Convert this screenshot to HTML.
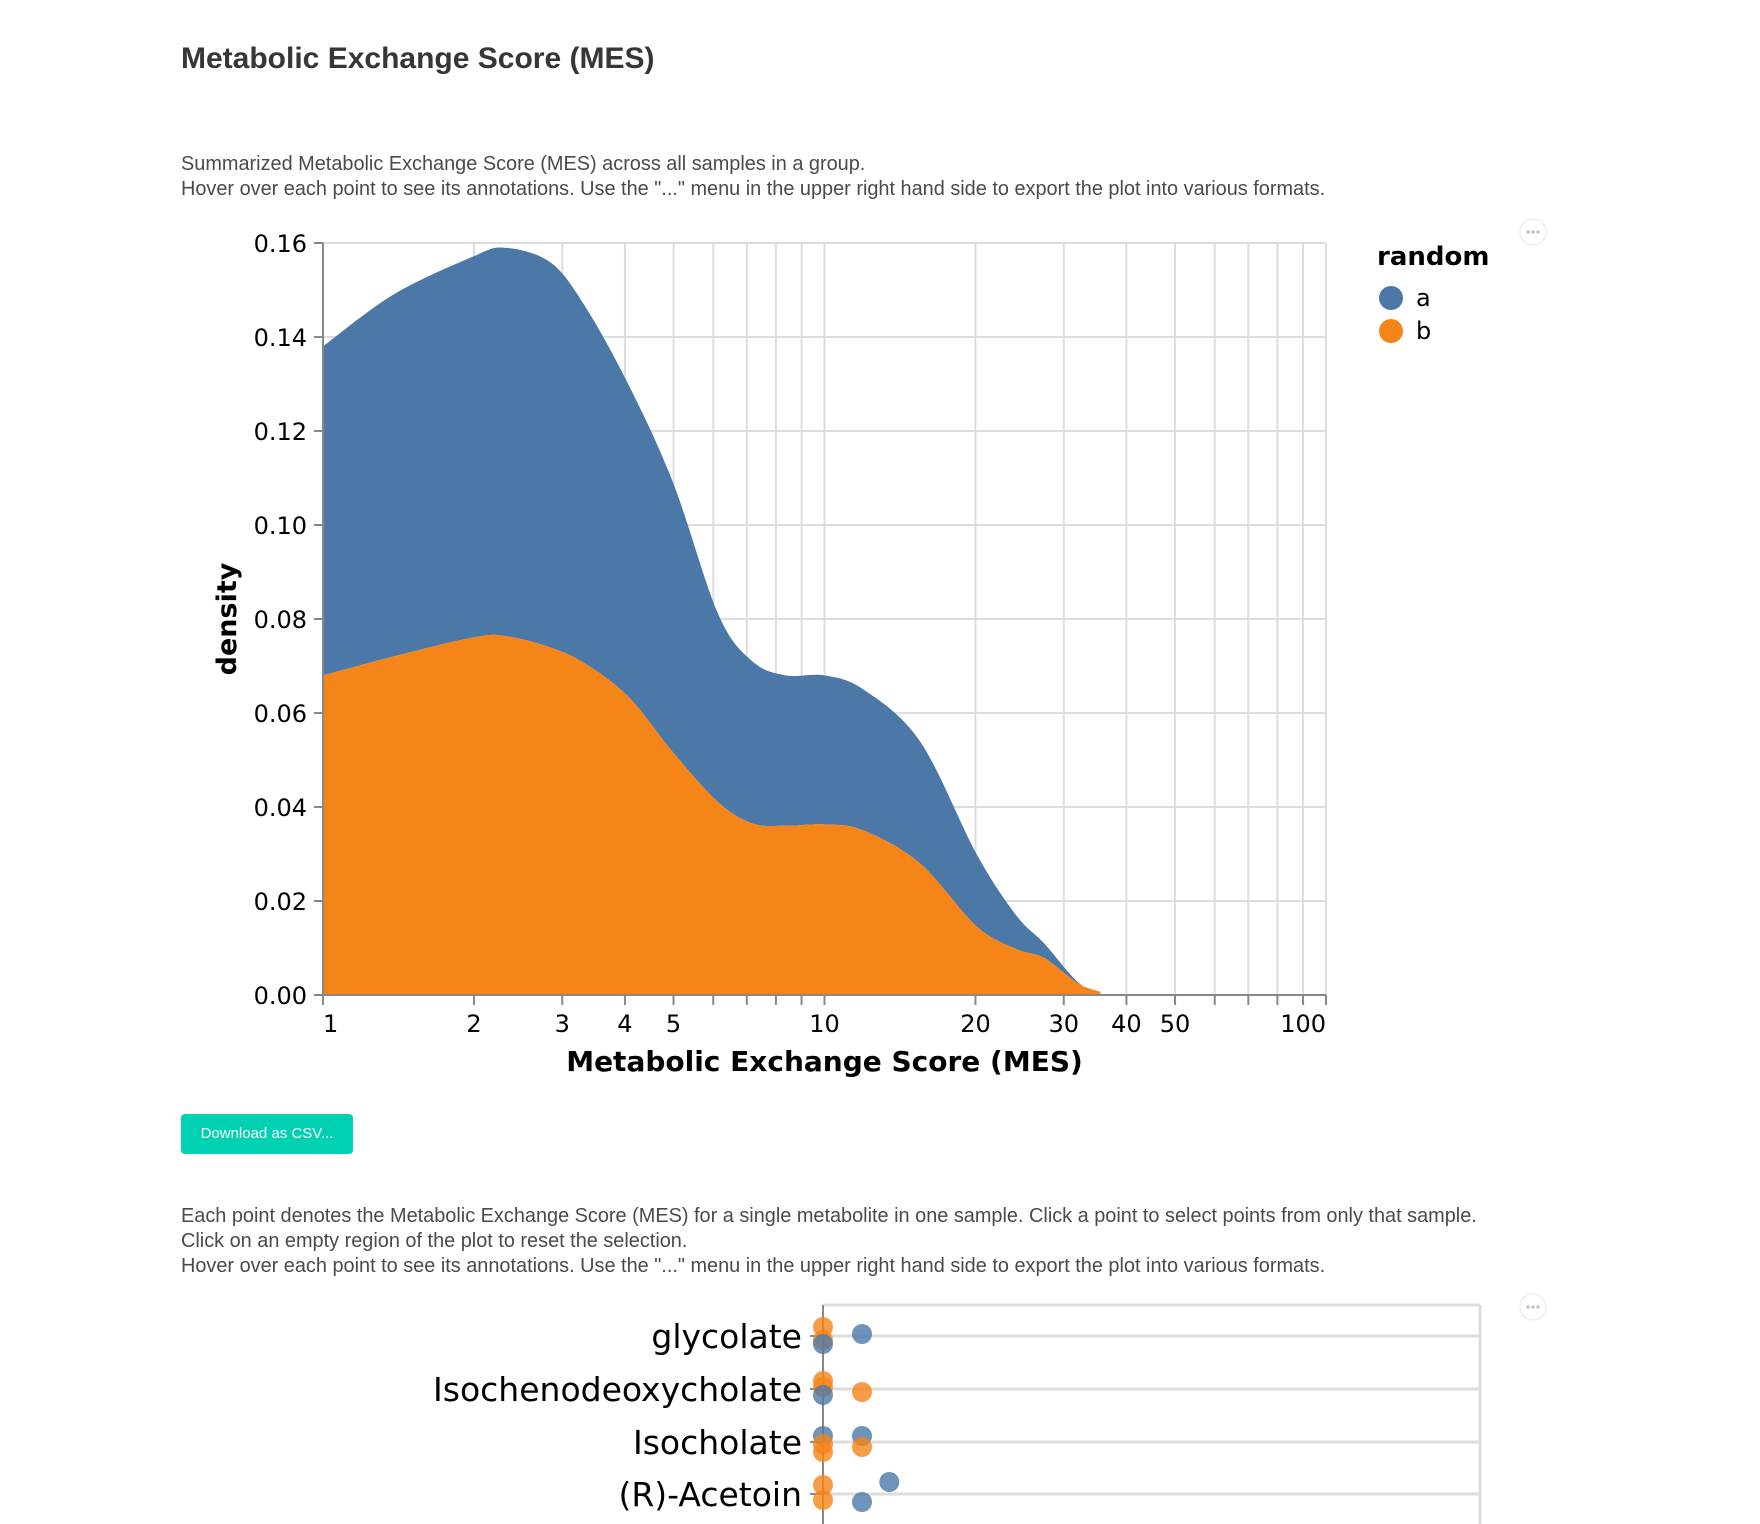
<!DOCTYPE html>
<html><head><meta charset="utf-8">
<style>
body{margin:0;background:#fff;width:1760px;height:1524px;overflow:hidden;font-family:"Liberation Sans",sans-serif;position:relative}
.t{position:absolute;color:#4a4a4a;font-size:19.9px;line-height:25px;left:181px;white-space:nowrap}
h1{position:absolute;left:181px;top:42px;margin:0;font-size:30px;font-weight:bold;color:#363636}
.btn{position:absolute;left:181px;top:1114px;width:172px;height:40px;background:#00d1b2;color:#fff;border-radius:4px;font-size:15px;line-height:40px;text-align:center}
svg{position:absolute;left:0;top:0}
</style></head><body>
<h1>Metabolic Exchange Score (MES)</h1>
<div class="t" style="top:152px">Summarized Metabolic Exchange Score (MES) across all samples in a group.<br>Hover over each point to see its annotations. Use the "..." menu in the upper right hand side to export the plot into various formats.</div>
<div class="btn">Download as CSV...</div>
<div class="t" style="top:1204px">Each point denotes the Metabolic Exchange Score (MES) for a single metabolite in one sample. Click a point to select points from only that sample.<br>Click on an empty region of the plot to reset the selection.<br>Hover over each point to see its annotations. Use the "..." menu in the upper right hand side to export the plot into various formats.</div>
<svg id="chart" width="1760" height="1524" font-family="'DejaVu Sans',sans-serif"></svg>
<script>
const mesX=[1,1.38,1.98,2.3,2.83,3.31,4.06,4.99,6.14,7.18,8.37,10,11.96,15.5,20.1,24.1,27.4,32.1,35.5];
const densB=[0.068,0.072,0.076,0.0764,0.074,0.0707,0.0635,0.0516,0.041,0.0365,0.036,0.0363,0.035,0.028,0.0146,0.0098,0.0079,0.0024,0.0007];
const densTotal=[0.138,0.149,0.157,0.159,0.156,0.147,0.130,0.109,0.081,0.071,0.068,0.068,0.065,0.054,0.030,0.017,0.011,0.0026,0.0007];
const densA=densTotal.map((v,i)=>v-densB[i]);
const yTicks=[0,0.02,0.04,0.06,0.08,0.10,0.12,0.14,0.16];
const xTickLabels=[1,2,3,4,5,10,20,30,40,50,100];
const xMinor=[6,7,8,9,60,70,80,90];
const metabolites=["glycolate","Isochenodeoxycholate","Isocholate","(R)-Acetoin"];
const ptRow=[0,0,0,0,1,1,1,1,2,2,2,2,2,3,3,3,3];
const ptVal=[1,1,1,2,1,1,1,2,1,1,1,2,2,1,1,2.7,2];
const ptGroup=["b","b","a","a","b","b","a","b","a","b","b","a","b","b","b","a","a"];
const ptJitter=[-9,4,8,-2,-8,-2,6,3,-6,2,10,-6,5,-9,6,-12,8];

const NS="http://www.w3.org/2000/svg",svg=document.getElementById('chart');
function mk(t,a,p){const e=document.createElementNS(NS,t);for(const k in a)e.setAttribute(k,a[k]);(p||svg).appendChild(e);return e;}
const X0=323,X1=1326,Y0=995,Y1=243;
const xs=v=>X0+Math.log10(v)/2*(X1-X0);
const ys=v=>Y0-v/0.16*(Y0-Y1);
const g=mk('g',{});


[...xTickLabels,...xMinor].forEach(v=>{const l=mk('line',{x1:xs(v),x2:xs(v),y1:Y1,y2:Y0,stroke:'#ddd','stroke-width':2},g);
 
 });
yTicks.forEach(v=>{const l=mk('line',{x1:X0,x2:X1,y1:ys(v),y2:ys(v),stroke:'#ddd','stroke-width':2},g);
 
 });
function smooth(pts){let d='';for(let i=0;i<pts.length-1;i++){const p0=pts[Math.max(0,i-1)],p1=pts[i],p2=pts[i+1],p3=pts[Math.min(pts.length-1,i+2)];
 const c1=[p1[0]+(p2[0]-p0[0])/6,p1[1]+(p2[1]-p0[1])/6],c2=[p2[0]-(p3[0]-p1[0])/6,p2[1]-(p3[1]-p1[1])/6];
 d+=(i?'':'M'+p1[0]+','+p1[1])+'C'+c1[0]+','+c1[1]+' '+c2[0]+','+c2[1]+' '+p2[0]+','+p2[1];}return d;}
const topPts=mesX.map((x,i)=>[xs(x),ys(densA[i]+densB[i])]);
const midPts=mesX.map((x,i)=>[xs(x),ys(densB[i])]);
const aPath=mk('path',{d:smooth(topPts)+'L'+smooth(midPts.slice().reverse()).slice(1)+'Z',fill:'#4c78a8'},g);


const bPath=mk('path',{d:smooth(midPts)+'L'+xs(mesX[mesX.length-1])+','+Y0+'L'+X0+','+Y0+'Z',fill:'#f58518'},g);


mk('line',{x1:X0,x2:X0,y1:Y1,y2:Y0,stroke:'#888','stroke-width':2},g);
mk('line',{x1:X0,x2:X1,y1:Y0,y2:Y0,stroke:'#888','stroke-width':2},g);
yTicks.forEach(v=>{mk('line',{x1:X0-9,x2:X0,y1:ys(v),y2:ys(v),stroke:'#888','stroke-width':2},g);
 const t=mk('text',{x:X0-16,y:ys(v)+9,'text-anchor':'end','font-size':24},g);t.textContent=v.toFixed(2);
 
 });
[...xTickLabels,...xMinor].forEach(v=>mk('line',{x1:xs(v),x2:xs(v),y1:Y0,y2:Y0+10,stroke:'#888','stroke-width':2},g));
xTickLabels.forEach((v,i)=>{const t=mk('text',{x:xs(v),y:Y0+37,'text-anchor':i==0?'start':(i==xTickLabels.length-1?'end':'middle'),'font-size':24},g);t.textContent=v;
 
 });
let t=mk('text',{x:(X0+X1)/2,y:1071,'text-anchor':'middle','font-size':28,'font-weight':'bold'},g);t.textContent='Metabolic Exchange Score (MES)';


t=mk('text',{x:0,y:0,'text-anchor':'middle','font-size':27,'font-weight':'bold',transform:'translate(236,619) rotate(-90)'},g);t.textContent='density';


t=mk('text',{x:1377,y:265,'font-size':26,'font-weight':'bold'});t.textContent='random';


[['a','#4c78a8',298],['b','#f58518',331]].forEach(([n,c,y])=>{const lg=mk('g',{});
 
 
 mk('circle',{cx:1391,cy:y,r:12,fill:c},lg);const tt=mk('text',{x:1416,y:y+8,'font-size':24},lg);tt.textContent=n;});
[232,1307].forEach(y=>{const m=mk('g',{});
 
 
 mk('circle',{cx:1533,cy:y,r:13,fill:'#fff',stroke:'#eee','stroke-width':1.5},m);
 [-5,0,5].forEach(d=>mk('circle',{cx:1533+d,cy:y,r:1.6,fill:'#bbb'},m));});
const SX0=823,SX1=1480,ST=1305,rowY=[1336,1389,1442,1494];
const sx=v=>SX0+(v-1)*39;
const s=mk('g',{});


mk('line',{x1:SX0,x2:SX1,y1:ST,y2:ST,stroke:'#ddd','stroke-width':3},s);
mk('line',{x1:SX1,x2:SX1,y1:ST,y2:1524,stroke:'#ddd','stroke-width':3},s);
metabolites.forEach((m,i)=>{mk('line',{x1:SX0,x2:SX1,y1:rowY[i],y2:rowY[i],stroke:'#ddd','stroke-width':3},s);
 mk('line',{x1:SX0-13,x2:SX0,y1:rowY[i],y2:rowY[i],stroke:'#888','stroke-width':2},s);
 const tt=mk('text',{x:SX0-21,y:rowY[i]+12,'text-anchor':'end','font-size':33},s);tt.textContent=m;
 
 });
mk('line',{x1:SX0,x2:SX0,y1:ST,y2:1524,stroke:'#888','stroke-width':2},s);
ptVal.forEach((v,i)=>{const c=mk('circle',{cx:sx(v),cy:rowY[ptRow[i]]+ptJitter[i],r:10,fill:ptGroup[i]=='a'?'#4c78a8':'#f58518','fill-opacity':0.8},s);
 
 });
</script>
</body></html>
